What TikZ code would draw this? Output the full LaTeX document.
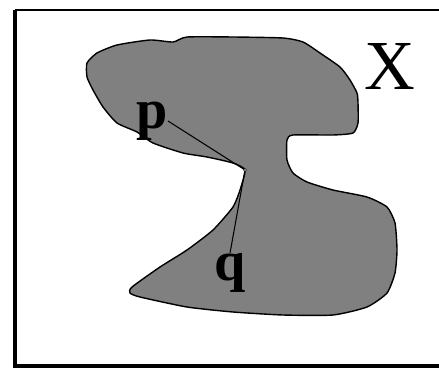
\documentclass[tikz,border=0pt]{standalone}
\usepackage{fontspec}
\setmainfont{Liberation Serif}
\usepackage{tikz}
\usetikzlibrary{positioning}

\tikzset{
  blob/.style={draw=black, fill=black!50, line width=0.8pt},
  lettre/.style={font=\fontsize{32}{32}\selectfont\bfseries, inner sep=0pt},
  seg/.style={draw=black, line width=0.6pt}
}

\begin{document}
\begin{tikzpicture}[x=0.02cm, y=-0.02cm]
  \useasboundingbox (0,0) rectangle (439,368);
  % Cadre
  \draw[line width=1.6pt] (15,10) -- (442,10);
  \draw[line width=2pt] (15,10) -- (15,366) -- (442,366);

  % Ensemble X
  \draw[blob] plot[smooth cycle, tension=0.35] coordinates {
    (87,63) (97,53) (117,45) (150,40) (173,42) (187,37) (233,37) (283,38)
    (303,42) (320,53) (340,67) (350,80) (357,93) (358,103) (358,123)
    (353,133) (333,135) (293,135) (287,140) (287,160) (293,173) (307,182)
    (333,190) (367,197) (387,207) (395,223) (397,250) (395,273) (387,293)
    (367,307) (333,315) (283,315) (233,312) (187,307) (140,297) (130,293)
    (132,287) (160,267) (187,250) (213,230) (233,207) (240,190) (245,170)
    (233,163) (207,157) (183,153) (153,143) (137,132) (117,123) (103,107)
    (93,90) (87,77)};

  % Points
  \node[lettre, font=\fontsize{40}{40}\selectfont] (x) at (390,66) {X};
  \node[lettre] (p) at (152,121) {p};
  \node[lettre] (q) at (230,273) {q};
  \coordinate (coin) at (245,170);

  % Chemin
  \draw[seg] (p.east) -- (coin) -- (q.north);
  \filldraw[fill=white, draw=black, line width=0.3pt] (coin) circle (1.5);
\end{tikzpicture}
\end{document}
